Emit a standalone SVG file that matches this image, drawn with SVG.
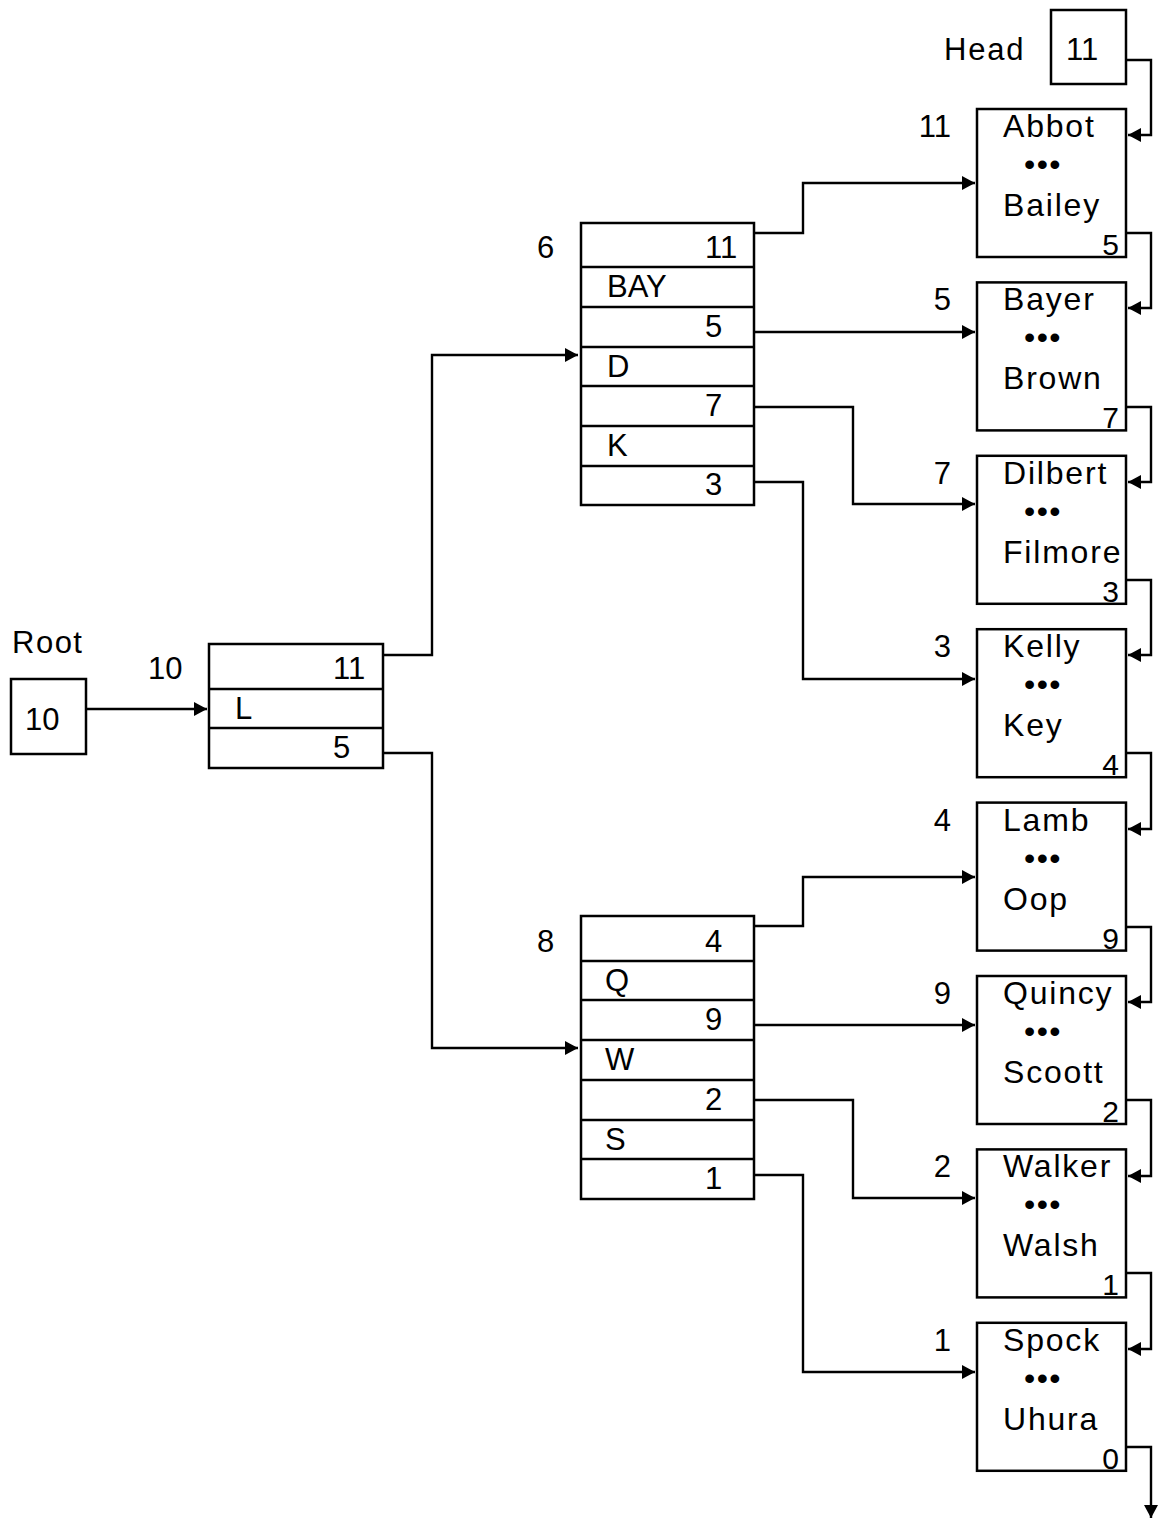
<svg xmlns="http://www.w3.org/2000/svg" width="1165" height="1520" viewBox="0 0 1165 1520">
<style>
text{font-family:"Liberation Sans",Arial,sans-serif;fill:#000}
.box{fill:#fff;stroke:#000;stroke-width:2.5}
.ln{fill:none;stroke:#000;stroke-width:2.4}
.t{font-size:31px}
.lt{font-size:32px;letter-spacing:1.8px}
.dg{font-size:30px;text-anchor:end}
.lab{font-size:31px;text-anchor:end}
.dots{font-size:32px;text-anchor:middle;letter-spacing:1.5px}
.w{stroke:#000;stroke-width:2.5}
</style>
<defs>
<marker id="ah" markerUnits="userSpaceOnUse" markerWidth="15" markerHeight="15" refX="13" refY="7" orient="auto">
<path d="M0,0 L13,7 L0,14 z" fill="#000"/>
</marker>
</defs>

<g id="connectors">
<path class="ln" d="M86,709 H207" marker-end="url(#ah)"/>
<path class="ln" d="M383,655 H432 V355 H578" marker-end="url(#ah)"/>
<path class="ln" d="M383,753 H432 V1048 H578" marker-end="url(#ah)"/>
<path class="ln" d="M754,233 H803 V183 H975" marker-end="url(#ah)"/>
<path class="ln" d="M754,332 H975" marker-end="url(#ah)"/>
<path class="ln" d="M754,407 H853 V504 H975" marker-end="url(#ah)"/>
<path class="ln" d="M754,482 H803 V679 H975" marker-end="url(#ah)"/>
<path class="ln" d="M754,926 H803 V877 H975" marker-end="url(#ah)"/>
<path class="ln" d="M754,1025 H975" marker-end="url(#ah)"/>
<path class="ln" d="M754,1100 H853 V1198 H975" marker-end="url(#ah)"/>
<path class="ln" d="M754,1175 H803 V1372 H975" marker-end="url(#ah)"/>
<path class="ln" d="M1126,60 H1151 V135 H1128" marker-end="url(#ah)"/>
<path class="ln" d="M1126,233 H1151 V308 H1128" marker-end="url(#ah)"/>
<path class="ln" d="M1126,407 H1151 V482 H1128" marker-end="url(#ah)"/>
<path class="ln" d="M1126,580 H1151 V655 H1128" marker-end="url(#ah)"/>
<path class="ln" d="M1126,753 H1151 V829 H1128" marker-end="url(#ah)"/>
<path class="ln" d="M1126,927 H1151 V1002 H1128" marker-end="url(#ah)"/>
<path class="ln" d="M1126,1100 H1151 V1176 H1128" marker-end="url(#ah)"/>
<path class="ln" d="M1126,1273 H1151 V1349 H1128" marker-end="url(#ah)"/>
<path class="ln" d="M1126,1447 H1151 V1518" marker-end="url(#ah)"/>
</g>

<g id="head">
<text class="t" x="944" y="60" style="letter-spacing:1.8px">Head</text>
<rect class="box" x="1051" y="10" width="75" height="74"/>
<text class="t" x="1066" y="60">11</text>
</g>

<g id="root">
<text class="t" x="12" y="653" style="letter-spacing:1.5px">Root</text>
<rect class="box" x="11" y="679" width="75" height="75"/>
<text class="t" x="25" y="730">10</text>
</g>

<g id="node10">
<text class="t" x="148" y="679">10</text>
<rect class="box" x="209" y="644" width="174" height="124"/>
<line class="w" x1="209" y1="689" x2="383" y2="689"/>
<line class="w" x1="209" y1="728" x2="383" y2="728"/>
<text class="t" x="333" y="679">11</text>
<text class="t" x="235" y="719">L</text>
<text class="t" x="333" y="758">5</text>
</g>

<g id="node6">
<text class="t" x="537" y="258">6</text>
<rect class="box" x="581" y="223" width="173" height="282"/>
<line class="w" x1="581" y1="267" x2="754" y2="267"/>
<line class="w" x1="581" y1="307" x2="754" y2="307"/>
<line class="w" x1="581" y1="347" x2="754" y2="347"/>
<line class="w" x1="581" y1="386" x2="754" y2="386"/>
<line class="w" x1="581" y1="426" x2="754" y2="426"/>
<line class="w" x1="581" y1="466" x2="754" y2="466"/>
<text class="t" x="705" y="258">11</text>
<text class="t" x="607" y="297">BAY</text>
<text class="t" x="705" y="337">5</text>
<text class="t" x="607" y="377">D</text>
<text class="t" x="705" y="416">7</text>
<text class="t" x="607" y="456">K</text>
<text class="t" x="705" y="495">3</text>
</g>

<g id="node8">
<text class="t" x="537" y="952">8</text>
<rect class="box" x="581" y="916" width="173" height="283"/>
<line class="w" x1="581" y1="961" x2="754" y2="961"/>
<line class="w" x1="581" y1="1000" x2="754" y2="1000"/>
<line class="w" x1="581" y1="1040" x2="754" y2="1040"/>
<line class="w" x1="581" y1="1080" x2="754" y2="1080"/>
<line class="w" x1="581" y1="1120" x2="754" y2="1120"/>
<line class="w" x1="581" y1="1159" x2="754" y2="1159"/>
<text class="t" x="705" y="952">4</text>
<text class="t" x="605" y="991">Q</text>
<text class="t" x="705" y="1030">9</text>
<text class="t" x="605" y="1070">W</text>
<text class="t" x="705" y="1110">2</text>
<text class="t" x="605" y="1150">S</text>
<text class="t" x="705" y="1189">1</text>
</g>

<g id="leaf11">
<text class="lab" x="951" y="137">11</text>
<rect class="box" x="977" y="109" width="149" height="148"/>
<text class="lt" x="1003" y="137">Abbot</text>
<text class="dots" x="1043" y="175">•••</text>
<text class="lt" x="1003" y="216">Bailey</text>
<text class="dg" x="1119" y="255">5</text>
</g>
<g id="leaf5">
<text class="lab" x="951" y="310">5</text>
<rect class="box" x="977" y="282.4" width="149" height="148"/>
<text class="lt" x="1003" y="310">Bayer</text>
<text class="dots" x="1043" y="348">•••</text>
<text class="lt" x="1003" y="389">Brown</text>
<text class="dg" x="1119" y="428">7</text>
</g>
<g id="leaf7">
<text class="lab" x="951" y="484">7</text>
<rect class="box" x="977" y="455.8" width="149" height="148"/>
<text class="lt" x="1003" y="484">Dilbert</text>
<text class="dots" x="1043" y="522">•••</text>
<text class="lt" x="1003" y="563">Filmore</text>
<text class="dg" x="1119" y="602">3</text>
</g>
<g id="leaf3">
<text class="lab" x="951" y="657">3</text>
<rect class="box" x="977" y="629.2" width="149" height="148"/>
<text class="lt" x="1003" y="657">Kelly</text>
<text class="dots" x="1043" y="695">•••</text>
<text class="lt" x="1003" y="736">Key</text>
<text class="dg" x="1119" y="775">4</text>
</g>
<g id="leaf4">
<text class="lab" x="951" y="831">4</text>
<rect class="box" x="977" y="802.6" width="149" height="148"/>
<text class="lt" x="1003" y="831">Lamb</text>
<text class="dots" x="1043" y="869">•••</text>
<text class="lt" x="1003" y="910">Oop</text>
<text class="dg" x="1119" y="949">9</text>
</g>
<g id="leaf9">
<text class="lab" x="951" y="1004">9</text>
<rect class="box" x="977" y="976" width="149" height="148"/>
<text class="lt" x="1003" y="1004">Quincy</text>
<text class="dots" x="1043" y="1042">•••</text>
<text class="lt" x="1003" y="1083">Scoott</text>
<text class="dg" x="1119" y="1122">2</text>
</g>
<g id="leaf2">
<text class="lab" x="951" y="1177">2</text>
<rect class="box" x="977" y="1149.4" width="149" height="148"/>
<text class="lt" x="1003" y="1177">Walker</text>
<text class="dots" x="1043" y="1215">•••</text>
<text class="lt" x="1003" y="1256">Walsh</text>
<text class="dg" x="1119" y="1295">1</text>
</g>
<g id="leaf1">
<text class="lab" x="951" y="1351">1</text>
<rect class="box" x="977" y="1322.8" width="149" height="148"/>
<text class="lt" x="1003" y="1351">Spock</text>
<text class="dots" x="1043" y="1389">•••</text>
<text class="lt" x="1003" y="1430">Uhura</text>
<text class="dg" x="1119" y="1469">0</text>
</g>
</svg>
